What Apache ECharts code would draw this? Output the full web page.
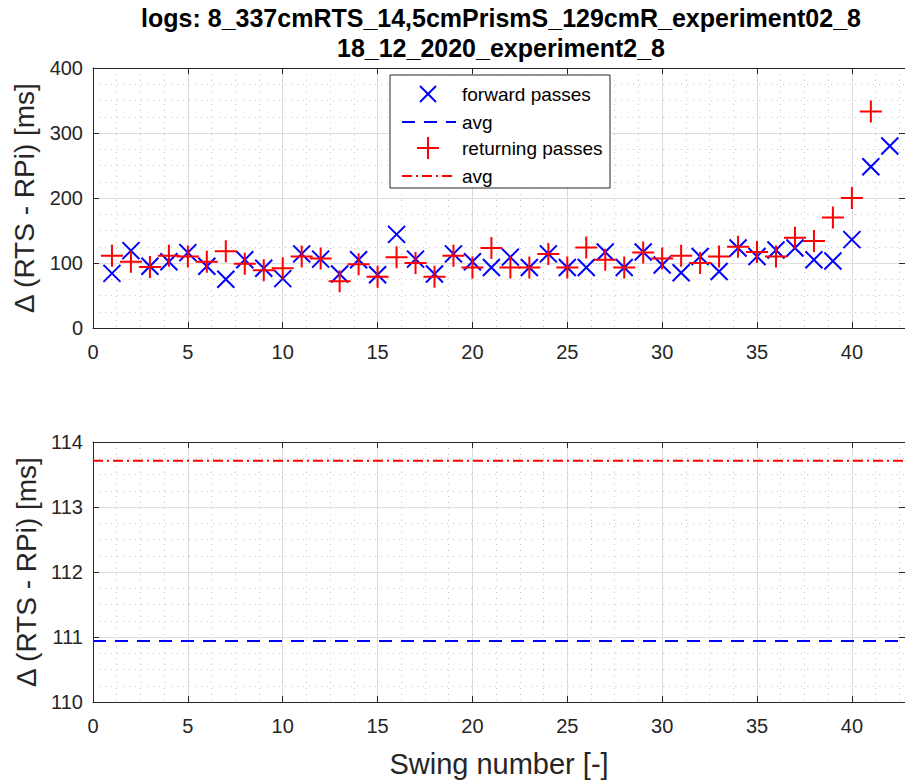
<!DOCTYPE html>
<html>
<head>
<meta charset="utf-8">
<script src="https://cdn.jsdelivr.net/npm/echarts@6/dist/echarts.min.js"></script>
<style>
  html, body { margin: 0; padding: 0; background: #ffffff; }
  #chart { width: 905px; height: 784px; }
</style>
</head>
<body>
<div id="chart"></div>
<script>
// Swing numbers and measured delay (RTS - RPi) per swing, in ms
const forwardSwings = [1, 2, 3, 4, 5, 6, 7, 8, 9, 10, 11, 12, 13, 14, 15, 16, 17, 18, 19, 20, 21,
  22, 23, 24, 25, 26, 27, 28, 29, 30, 31, 32, 33, 34, 35, 36, 37, 38, 39, 40, 41, 42];
const forwardDelays = [84, 119, 95, 102, 116, 95, 75, 105, 92, 76, 114, 106, 83, 105, 82, 144, 106,
  83, 114, 102, 93, 109, 93, 114, 93, 93, 117, 93, 117, 97, 85, 110, 87, 123, 110, 120, 123, 105,
  103, 136, 248, 280];

const returnSwings = [1, 2, 3, 4, 5, 6, 7, 8, 9, 10, 11, 12, 13, 14, 15, 16, 17, 18, 19, 20, 21,
  22, 23, 24, 25, 26, 27, 28, 29, 30, 31, 32, 33, 34, 35, 36, 37, 38, 39, 40, 41];
const returnDelays = [111, 102, 94, 111, 110, 102, 118, 99, 89, 92, 110, 107, 72, 98, 79, 109, 100,
  79, 111, 93, 123, 93, 93, 114, 93, 124, 105, 93, 116, 107, 111, 100, 110, 125, 117, 110, 139,
  134, 170, 200, 333];

// Averages shown in the lower panel
const forwardAvg = 110.94;
const returnAvg = 113.71;

const titleLines = ['logs: 8_337cmRTS_14,5cmPrismS_129cmR_experiment02_8', '18_12_2020_experiment2_8'];
const legendLabels = ['forward passes', 'avg', 'returning passes', 'avg'];
const yLabel = '\u0394 (RTS - RPi) [ms]';
const xLabel = 'Swing number [-]';

const FONT = '"Liberation Sans", Arial, Helvetica, sans-serif';
const INK = '#262626';
const BLUE = '#0000ff';
const RED = '#ff0000';
const X_MAX = 42.8;

const crossPath = 'path://M0,0L10,10M10,0L0,10';
const plusPath = 'path://M5,0L5,10M0,5L10,5';

const chart = echarts.init(document.getElementById('chart'), null, { renderer: 'svg' });

function pairs(xs, ys) { return xs.map((x, i) => [x, ys[i]]); }

// Axis builders
function mainX(grid, withName) {
  return {
    type: 'value', gridIndex: grid, position: 'bottom', min: 0, max: X_MAX, interval: 5,
    axisLine: { show: true, onZero: false, lineStyle: { color: INK, width: 1 } },
    axisTick: { show: true, inside: true, length: 6, lineStyle: { color: INK } },
    axisLabel: { show: true, fontSize: 20, color: INK, margin: 14, showMaxLabel: false, fontFamily: FONT },
    splitLine: { show: true, lineStyle: { color: '#dedede', width: 1 } },
    name: withName ? xLabel : '', nameLocation: 'middle', nameGap: 47,
    nameTextStyle: { fontSize: 29, color: INK, fontFamily: FONT }
  };
}
function minorX(grid) {
  return {
    type: 'value', gridIndex: grid, position: 'bottom', min: 0, max: X_MAX, interval: 1.25,
    axisLine: { show: false }, axisTick: { show: false }, axisLabel: { show: false },
    splitLine: { show: true, lineStyle: { color: '#c8c8c8', width: 1, type: [1, 5] } }
  };
}
function topX(grid) {
  return {
    type: 'value', gridIndex: grid, position: 'top', min: 0, max: X_MAX, interval: 5,
    axisLine: { show: true, onZero: false, lineStyle: { color: INK, width: 1 } },
    axisTick: { show: true, inside: true, length: 6, lineStyle: { color: INK } },
    axisLabel: { show: false }, splitLine: { show: false }
  };
}
function mainY(grid, min, max, step) {
  return {
    type: 'value', gridIndex: grid, position: 'left', min: min, max: max, interval: step,
    axisLine: { show: true, onZero: false, lineStyle: { color: INK, width: 1 } },
    axisTick: { show: true, inside: true, length: 6, lineStyle: { color: INK } },
    axisLabel: { show: true, fontSize: 20, color: INK, margin: 10, fontFamily: FONT },
    splitLine: { show: true, lineStyle: { color: '#dedede', width: 1 } },
    minorTick: { show: false, splitNumber: 4 },
    minorSplitLine: { show: true, lineStyle: { color: '#c8c8c8', width: 1, type: [1, 5] } },
    name: yLabel, nameLocation: 'middle', nameGap: 50,
    nameTextStyle: { fontSize: 28, color: INK, fontFamily: FONT }
  };
}
function rightY(grid, min, max, step) {
  return {
    type: 'value', gridIndex: grid, position: 'right', min: min, max: max, interval: step,
    axisLine: { show: true, onZero: false, lineStyle: { color: INK, width: 1 } },
    axisTick: { show: true, inside: true, length: 6, lineStyle: { color: INK } },
    axisLabel: { show: false }, splitLine: { show: false }
  };
}

// Legend box drawn as graphics (two entries share the label "avg")
const LX = 390, LY = 75, LW = 220, LH = 113;
const rowY = [94, 122, 148, 176];
const legendGraphics = [
  { type: 'rect', shape: { x: LX, y: LY, width: LW, height: LH },
    style: { fill: '#ffffff', stroke: INK, lineWidth: 1 }, z: 100 },
  { type: 'polyline', shape: { points: [[420, rowY[0] - 8], [436, rowY[0] + 8]] }, style: { stroke: BLUE, lineWidth: 2, fill: null }, z: 101 },
  { type: 'polyline', shape: { points: [[436, rowY[0] - 8], [420, rowY[0] + 8]] }, style: { stroke: BLUE, lineWidth: 2, fill: null }, z: 101 },
  { type: 'line', shape: { x1: 402, y1: rowY[1], x2: 456, y2: rowY[1] }, style: { stroke: BLUE, lineWidth: 2, lineDash: [13, 9] }, z: 101 },
  { type: 'line', shape: { x1: 417, y1: rowY[2], x2: 439, y2: rowY[2] }, style: { stroke: RED, lineWidth: 2 }, z: 101 },
  { type: 'line', shape: { x1: 428, y1: rowY[2] - 11, x2: 428, y2: rowY[2] + 11 }, style: { stroke: RED, lineWidth: 2 }, z: 101 },
  { type: 'line', shape: { x1: 402, y1: rowY[3], x2: 456, y2: rowY[3] }, style: { stroke: RED, lineWidth: 2, lineDash: [10, 4, 2, 4] }, z: 101 }
];
legendLabels.forEach((t, i) => {
  legendGraphics.push({
    type: 'text', x: 462, y: rowY[i], z: 102,
    style: { text: t, fill: '#000000', font: '19px ' + FONT, align: 'left', verticalAlign: 'middle' }
  });
});

const titleGraphics = titleLines.map((t, i) => ({
  type: 'text', x: 501, y: 18 + i * 30,
  style: { text: t, fill: '#000000', font: 'bold 25px ' + FONT, align: 'center', verticalAlign: 'middle' }
}));

const markerStyle = (color) => ({ color: 'rgba(0,0,0,0)', borderColor: color, borderWidth: 2, opacity: 1 });

const option = {
  animation: false,
  backgroundColor: '#ffffff',
  textStyle: { fontFamily: FONT, color: INK },
  grid: [
    { left: 93, top: 68, width: 813, height: 260 },
    { left: 93, top: 442, width: 813, height: 260 }
  ],
  xAxis: [mainX(0, false), minorX(0), topX(0), mainX(1, true), minorX(1), topX(1)],
  yAxis: [mainY(0, 0, 400, 100), rightY(0, 0, 400, 100), mainY(1, 110, 114, 1), rightY(1, 110, 114, 1)],
  graphic: titleGraphics.concat(legendGraphics),
  series: [
    {
      name: 'forward passes', type: 'scatter', xAxisIndex: 0, yAxisIndex: 0,
      data: pairs(forwardSwings, forwardDelays), symbol: crossPath, symbolSize: 17,
      itemStyle: markerStyle(BLUE), silent: true, z: 3
    },
    {
      name: 'returning passes', type: 'scatter', xAxisIndex: 0, yAxisIndex: 0,
      data: pairs(returnSwings, returnDelays), symbol: plusPath, symbolSize: 22,
      itemStyle: markerStyle(RED), silent: true, z: 4
    },
    {
      name: 'avg forward', type: 'line', xAxisIndex: 3, yAxisIndex: 2,
      data: [[0, forwardAvg], [X_MAX, forwardAvg]], showSymbol: false, symbol: 'none',
      lineStyle: { color: BLUE, width: 2, type: [13, 9] }, silent: true, z: 3
    },
    {
      name: 'avg returning', type: 'line', xAxisIndex: 3, yAxisIndex: 2,
      data: [[0, returnAvg], [X_MAX, returnAvg]], showSymbol: false, symbol: 'none',
      lineStyle: { color: RED, width: 2, type: [10, 4, 2, 4] }, silent: true, z: 3
    }
  ]
};

chart.setOption(option);
</script>
</body>
</html>
